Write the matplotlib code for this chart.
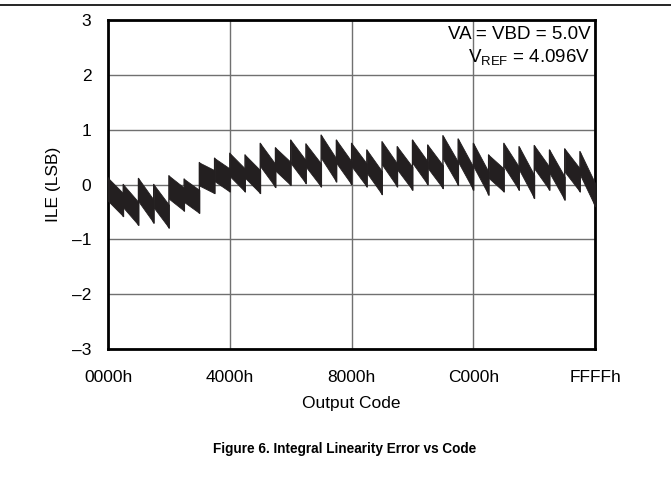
import matplotlib
matplotlib.use("Agg")
import matplotlib.pyplot as plt
import numpy as np

plt.rcParams['font.family'] = ['Liberation Sans', 'DejaVu Sans']
plt.rcParams['mathtext.fontset'] = 'custom'
plt.rcParams['mathtext.rm'] = 'Liberation Sans'
plt.rcParams['mathtext.it'] = 'Liberation Sans:italic'

# Data: each sawtooth segment spans 2048 output codes
tooth_start_codes = [k * 2048 for k in range(32)]
tooth_top = [0.12, 0.00, 0.11, 0.00, 0.16, 0.10,
             0.40, 0.48, 0.57, 0.54, 0.75, 0.67, 0.81, 0.74, 0.90, 0.81,
             0.75, 0.63, 0.78, 0.69, 0.81, 0.72, 0.89, 0.83, 0.75, 0.54,
             0.75, 0.69, 0.71, 0.63, 0.65, 0.60]
tooth_bottom = [-0.58, -0.74, -0.70, -0.79, -0.48, -0.52,
                -0.16, -0.13, -0.13, -0.16, -0.05, -0.01, 0.02, -0.04, 0.05, 0.00,
                -0.04, -0.18, -0.04, -0.10, 0.00, -0.07, -0.01, -0.10, -0.19, -0.13,
                -0.10, -0.25, -0.10, -0.28, -0.13, -0.40]
x_ticks = [0, 16384, 32768, 49152, 65535]
x_tick_labels = ['0000h', '4000h', '8000h', 'C000h', 'FFFFh']
y_ticks = [-3, -2, -1, 0, 1, 2, 3]
y_tick_labels = ['\u20133', '\u20132', '\u20131', '0', '1', '2', '3']

TOOTH = 2048
BAND = 0.42

fig = plt.figure(figsize=(6.71, 4.94), dpi=100)
ax = fig.add_axes([0.161, 0.2935, 0.726, 0.666])

ink = '#231f20'
line_x, line_y = [], []
for s, t, b in zip(tooth_start_codes, tooth_top, tooth_bottom):
    e = s + TOOTH - 1
    ax.fill_between([s, e], [t, b + BAND], [t - BAND, b], color=ink, lw=0.6,
                    edgecolor=ink, zorder=3)
    line_x += [s, e]
    line_y += [t, b]
ax.plot(line_x, line_y, color=ink, lw=1.0, zorder=3)

ax.set_xlim(0, 65535)
ax.set_ylim(-3, 3)
ax.set_xticks(x_ticks)
ax.set_xticklabels(x_tick_labels)
ax.set_yticks(y_ticks)
ax.set_yticklabels(y_tick_labels)
ax.tick_params(axis='both', length=0, labelsize=12.5, colors='black')
ax.tick_params(axis='x', pad=15)
ax.tick_params(axis='y', pad=12)
ax.grid(True, color='#707070', lw=1.0, zorder=1)
for sp in ax.spines.values():
    sp.set_linewidth(2.0)
    sp.set_color('black')

ax.set_xlabel('Output Code', fontsize=12.5, labelpad=8)
ax.set_ylabel('ILE (LSB)', fontsize=12.5, labelpad=8)

ax.text(0.99, 0.955, 'VA = VBD = 5.0V', transform=ax.transAxes, ha='right',
        va='center', fontsize=13.5)
ax.text(0.99, 0.888, r'V$_{\mathrm{REF}}$ = 4.096V', transform=ax.transAxes,
        ha='right', va='center', fontsize=13.5)

fig.add_artist(plt.Line2D([0, 1], [1 - 5 / 494, 1 - 5 / 494], color='black',
                          lw=1.2, transform=fig.transFigure))
fig.text(345 / 671, 1 - 449 / 494, 'Figure 6. Integral Linearity Error vs Code',
         ha='center', va='center', fontsize=9.8, fontweight='bold')

fig.savefig('out.png', dpi=100)
